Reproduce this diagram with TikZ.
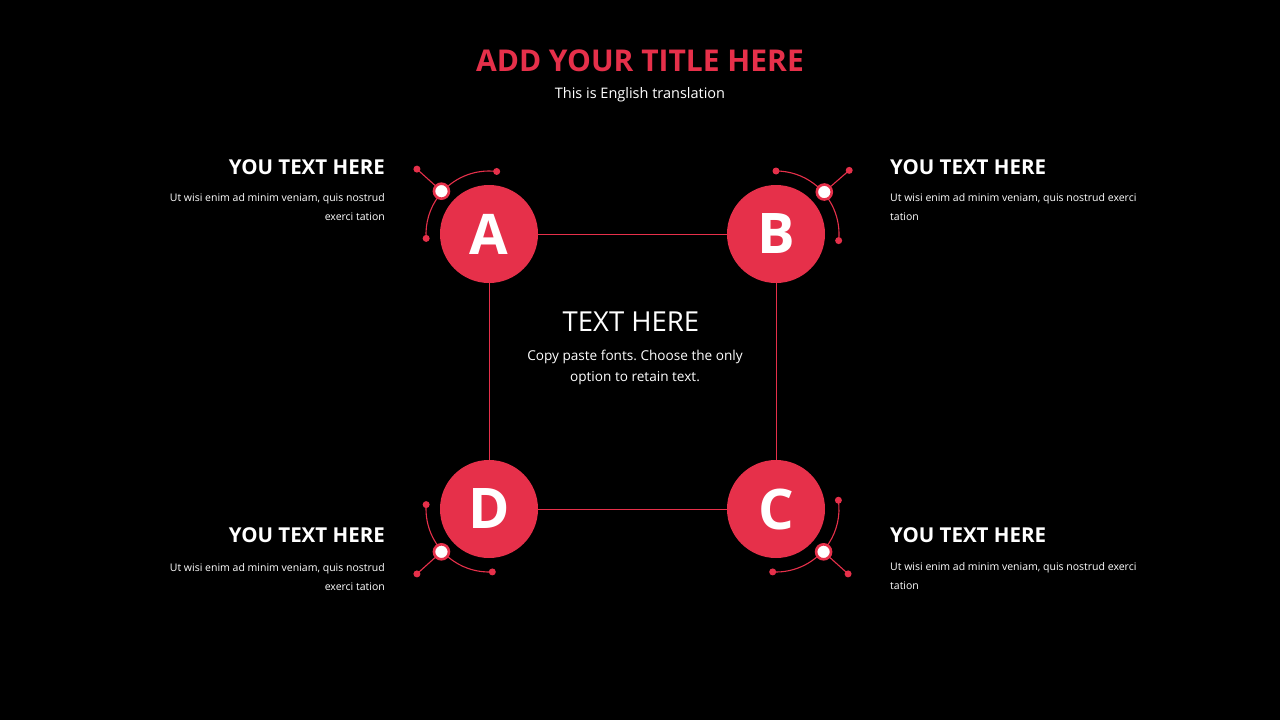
\documentclass[tikz,border=0pt]{standalone}
\usepackage{fontspec}
\setmainfont{Open Sans}
\usetikzlibrary{calc}
\definecolor{accent}{HTML}{E6304A}
\frenchspacing
\begin{document}
\begin{tikzpicture}[x=1pt,y=1pt,
  bigcirc/.style={circle,fill=accent,minimum size=98pt,inner sep=0pt,text=white,font=\fontsize{56}{56}\selectfont\bfseries},
  link/.style={draw=accent,line width=0.9pt},
  deco/.style={draw=accent,line width=1.1pt},
  enddot/.style={circle,fill=accent,minimum size=7pt,inner sep=0pt},
  ringdot/.style={circle,fill=white,draw=accent,line width=2.6pt,minimum size=15pt,inner sep=0pt},
  head/.style={text=white,font=\fontsize{20.5}{24}\selectfont\bfseries,inner sep=0pt},
  body/.style={text=white,font=\fontsize{10.5}{19}\selectfont,inner sep=0pt}]
\fill[black] (0,0) rectangle (1280,-720);
\useasboundingbox (0,0) rectangle (1280,-720);
% title
\node[text=accent,font=\fontsize{30}{32}\selectfont\bfseries,inner sep=0pt] (title) at (640,-61) {ADD YOUR TITLE HERE};
\node[text=white,font=\fontsize{14.5}{16}\selectfont,inner sep=0pt] (sub) at (640,-95) {This is English translation};
% circles
\node[bigcirc] (A) at (489,-234) {A};
\node[bigcirc] (B) at (776,-234) {B};
\node[bigcirc] (C) at (776,-509) {C};
\node[bigcirc] (D) at (489,-509) {D};
\draw[link] (A) -- (B);
\draw[link] (B) -- (C);
\draw[link] (C) -- (D);
\draw[link] (D) -- (A);
% decorations
\foreach \n/\sa/\ea/\wa in {A/83/184/138, B/-6/90/41, C/-93/8/-42, D/176/273/222}{
  \draw[deco] (\n.center) ++(\sa:63) arc[start angle=\sa,end angle=\ea,radius=63];
  \coordinate (\n w) at ($(\n.center)+(\wa:64)$);
  \coordinate (\n o) at ($(\n.center)+(\wa:97)$);
  \draw[deco] (\n w) -- (\n o);
  \node[enddot] at ($(\n.center)+(\sa:63)$) {};
  \node[enddot] at ($(\n.center)+(\ea:63)$) {};
  \node[enddot] at (\n o) {};
  \node[ringdot] at (\n w) {};
}
% center text
\node[text=white,font=\fontsize{27.5}{28}\selectfont,inner sep=0pt] (ct) at (631,-322) {TEXT HERE};
\node[body,font=\fontsize{13.6}{21}\selectfont,align=center] (cb) at (635,-367.5) {Copy paste fonts. Choose the only\\option to retain text.};
% side texts
\node[head,anchor=east] (ha) at (385,-167) {YOU TEXT HERE};
\node[body,anchor=east,align=right] (ba) at (385,-207.5) {Ut wisi enim ad minim veniam, quis nostrud\\exerci tation};
\node[head,anchor=west] (hb) at (890,-167) {YOU TEXT HERE};
\node[body,anchor=west,align=left] (bb) at (890,-207.5) {Ut wisi enim ad minim veniam, quis nostrud exerci\\tation};
\node[head,anchor=east] (hd) at (385,-535) {YOU TEXT HERE};
\node[body,anchor=east,align=right] (bd) at (385,-577) {Ut wisi enim ad minim veniam, quis nostrud\\exerci tation};
\node[head,anchor=west] (hc) at (890,-535) {YOU TEXT HERE};
\node[body,anchor=west,align=left] (bc) at (890,-576.5) {Ut wisi enim ad minim veniam, quis nostrud exerci\\tation};
\end{tikzpicture}
\end{document}
